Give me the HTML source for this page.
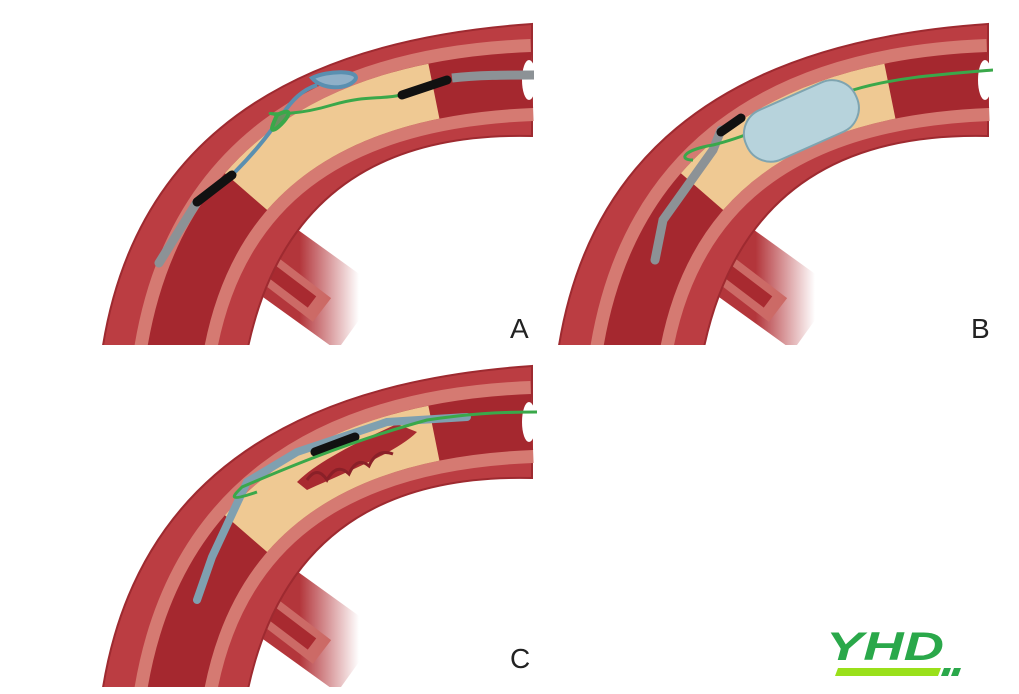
<!DOCTYPE html>
<html><head><meta charset="utf-8"><style>
html,body{margin:0;padding:0;background:#fff;width:1019px;height:694px;overflow:hidden}
</style></head><body>
<svg width="1019" height="694" viewBox="0 0 1019 694" xmlns="http://www.w3.org/2000/svg">
<defs>
<clipPath id="pc"><rect x="0" y="0" width="440" height="325"/></clipPath>
<linearGradient id="fade" x1="0" y1="0" x2="1" y2="0">
<stop offset="0.55" stop-color="#b3363b"/><stop offset="1" stop-color="#b3363b" stop-opacity="0"/>
</linearGradient>
<g id="vessel">
  <path d="M130 205 L262 300" stroke="url(#fade)" stroke-width="75" fill="none"/>
  <path d="M140 225 L225 290" stroke="#cc6a66" stroke-width="30" fill="none"/>
  <path d="M140 225 L215 282" stroke="#a82a30" stroke-width="14" fill="none"/>
  <path d="M5 332 Q50 30 435 4 L435 116 Q195 110 150 332 Z" fill="#bb3d42" stroke="#9e2a30" stroke-width="2"/>
  <path d="M78 332 Q122 72 435 60" stroke="#d57a72" stroke-width="82" fill="none"/>
  <path d="M78 332 Q122 72 435 60" stroke="#a5282f" stroke-width="56" fill="none"/>
  <ellipse cx="432" cy="60" rx="7" ry="20" fill="#fff"/>
</g>
<g id="plaque">
  <path d="M78 332 Q122 72 435 60" pathLength="100" stroke="#efc993" stroke-width="56" fill="none" stroke-dasharray="0 36 44 100"/>
</g>
</defs>

<!-- Panel A -->
<g transform="translate(97,20)">
 <g clip-path="url(#pc)">
  <use href="#vessel"/><use href="#plaque"/>
  <path d="M62 243 L100 182" stroke="#8c9296" stroke-width="9" stroke-linecap="round"/>
  <path d="M100 182 L135 155" stroke="#111" stroke-width="9" stroke-linecap="round"/>
  <path d="M138 152 C160 130 175 110 185 95 C195 80 205 70 220 65" stroke="#5a8fb0" stroke-width="4" fill="none"/>
  <path d="M215 58 C230 50 265 50 258 60 C250 70 225 70 215 58Z" stroke="#5a8fb0" stroke-width="4" fill="#8fb0c8"/>
  <path d="M180 95 C160 90 185 100 235 85 C270 75 280 80 305 75" stroke="#3aa84a" stroke-width="3" fill="none"/>
  <path d="M180 95 C200 85 190 100 180 108 C170 115 178 100 180 95" stroke="#3aa84a" stroke-width="4" fill="#6a9060"/>
  <path d="M305 75 L350 60" stroke="#111" stroke-width="9" stroke-linecap="round"/>
  <path d="M355 58 C380 55 410 55 437 55" stroke="#8c9296" stroke-width="9" fill="none"/>
 </g>
  <text x="413" y="318" font-family="Liberation Sans,sans-serif" font-size="28" fill="#222">A</text>
</g>

<!-- Panel B -->
<g transform="translate(553,20)">
 <g clip-path="url(#pc)">
  <use href="#vessel"/><use href="#plaque"/>
  <path d="M102 240 L110 200 L160 130 L168 110" stroke="#8c9296" stroke-width="9" fill="none" stroke-linecap="round"/>
  <path d="M168 112 L188 98" stroke="#111" stroke-width="9" stroke-linecap="round"/>
  <path d="M140 140 C125 140 130 130 160 125 C200 115 240 95 300 70 C340 58 380 55 440 50" stroke="#3aa84a" stroke-width="3" fill="none"/>
  <g transform="rotate(-24 248 100)">
    <rect x="188" y="74" width="120" height="54" rx="26" fill="#b7d3dc" stroke="#7fa4b0" stroke-width="2"/>
  </g>
 </g>
  <text x="418" y="318" font-family="Liberation Sans,sans-serif" font-size="28" fill="#222">B</text>
</g>

<!-- Panel C -->
<g transform="translate(97,362)">
 <g clip-path="url(#pc)">
  <use href="#vessel"/><use href="#plaque"/>
  <path d="M200 120 C220 100 260 80 300 62 L320 70 C300 90 250 110 210 128Z" fill="#a82a30"/>
  <path d="M210 118 q10 -15 20 0 q10 -18 22 -6 q8 -18 20 -8 q8 -18 24 -12" stroke="#8a2028" stroke-width="3" fill="none"/>
  <path d="M100 238 L115 195 L150 120 L200 90 L290 60 L370 55" stroke="#7fa0b0" stroke-width="8" fill="none" stroke-linecap="round"/>
  <path d="M218 90 L258 75" stroke="#111" stroke-width="9" stroke-linecap="round"/>
  <path d="M160 130 C130 140 135 135 145 125 C180 110 250 80 330 58 C370 52 400 50 440 50" stroke="#3aa84a" stroke-width="3" fill="none"/>
 </g>
  <text x="413" y="306" font-family="Liberation Sans,sans-serif" font-size="28" fill="#222">C</text>
</g>

<!-- Logo -->
<text x="826" y="660" font-family="Liberation Sans,sans-serif" font-weight="bold" font-style="italic" font-size="40" fill="#2aa84a" textLength="118" lengthAdjust="spacingAndGlyphs">YHD</text>
<polygon points="838,668 941,668 938,676 835,676" fill="#9ae01a"/>
<polygon points="944,668 951,668 948,676 941,676" fill="#2aa84a"/>
<polygon points="954,668 961,668 958,676 951,676" fill="#2aa84a"/>
</svg>
</body></html>
